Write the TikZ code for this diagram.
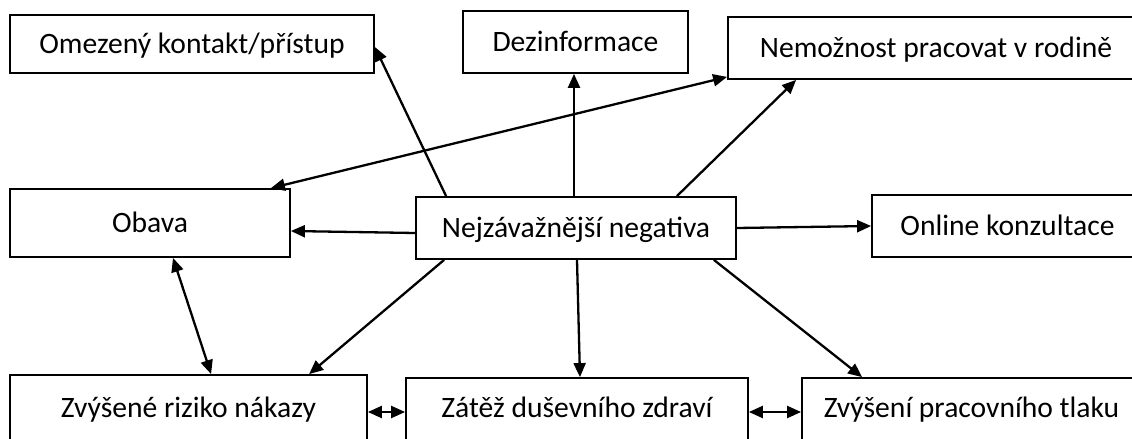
\documentclass[tikz,border=0pt]{standalone}
\usepackage{fontspec}
\setmainfont{Carlito}
\usetikzlibrary{arrows.meta}
\begin{document}
\begin{tikzpicture}[x=0.5pt,y=-0.5pt,
  box/.style={draw=black,line width=0.9pt,rectangle,inner sep=0pt,text height=12pt,text depth=2.5pt,font=\fontsize{14.8pt}{17pt}\selectfont},
  lowbox/.style={box,text height=7.5pt,text depth=2.5pt},
  conn/.style={line width=1.15pt,-{Triangle[length=7pt,width=6pt]}},
  dconn/.style={line width=1.15pt,{Triangle[length=7pt,width=6pt]}-{Triangle[length=7pt,width=6pt]}}]
\useasboundingbox (0,0) rectangle (1132,439);
\clip (0,0) rectangle (1132,439);
\fill[white] (0,0) rectangle (1132,439);
\node[box,minimum width=182pt,minimum height=29pt] (om) at (192,44) {Omezený kontakt/přístup};
\node[box,minimum width=112.5pt,minimum height=31pt] (dez) at (575.5,42) {Dezinformace};
\node[box,minimum width=208pt,minimum height=31pt] (nem) at (936,48) {Nemožnost pracovat v rodině};
\node[box,minimum width=140pt,minimum height=34pt] (obava) at (150,223) {Obava};
\node[box,minimum width=160pt,minimum height=31pt] (nejz) at (576,228) {Nejzávažnější negativa};
\node[box,minimum width=135.5pt,minimum height=31pt] (online) at (1007.5,226) {Online konzultace};
\node[lowbox,minimum width=178.5pt,minimum height=37pt] (riziko) at (188.5,412) {Zvýšené riziko nákazy};
\node[lowbox,minimum width=171pt,minimum height=34pt] (zatez) at (577,412) {Zátěž duševního zdraví};
\node[lowbox,minimum width=169.5pt,minimum height=34pt] (zvys) at (971.5,412) {Zvýšení pracovního tlaku};
% connectors
\draw[conn] ([xshift=15.5pt]nejz.north west) -- ([yshift=-1.5pt]om.east);
\draw[conn] ([xshift=-1pt]nejz.north) -- ([xshift=-1pt]nejz.north |- dez.south);
\draw[dconn] ([xshift=-10pt]obava.north east) -- ([yshift=1.5pt]nem.south west);
\draw[conn] ([xshift=-30pt]nejz.north east) -- ([xshift=34.5pt]nem.south west);
\draw[conn] ([yshift=-2.5pt]nejz.west) -- ([yshift=-4pt]obava.east);
\draw[conn] (nejz.east) -- (online.west);
\draw[dconn] ([xshift=11.5pt]obava.south) -- ([xshift=101pt]riziko.north west);
\draw[conn] ([xshift=14.5pt]nejz.south west) -- ([xshift=150pt]riziko.north west);
\draw[conn] ([xshift=0.5pt]nejz.south) -- ([xshift=1.5pt]zatez.north);
\draw[conn] ([xshift=-11.5pt]nejz.south east) -- ([xshift=30.5pt]zvys.north west);
\draw[dconn] (riziko.east) -- (riziko.east -| zatez.west);
\draw[dconn] (zatez.east) -- (zvys.west);
\end{tikzpicture}
\end{document}
